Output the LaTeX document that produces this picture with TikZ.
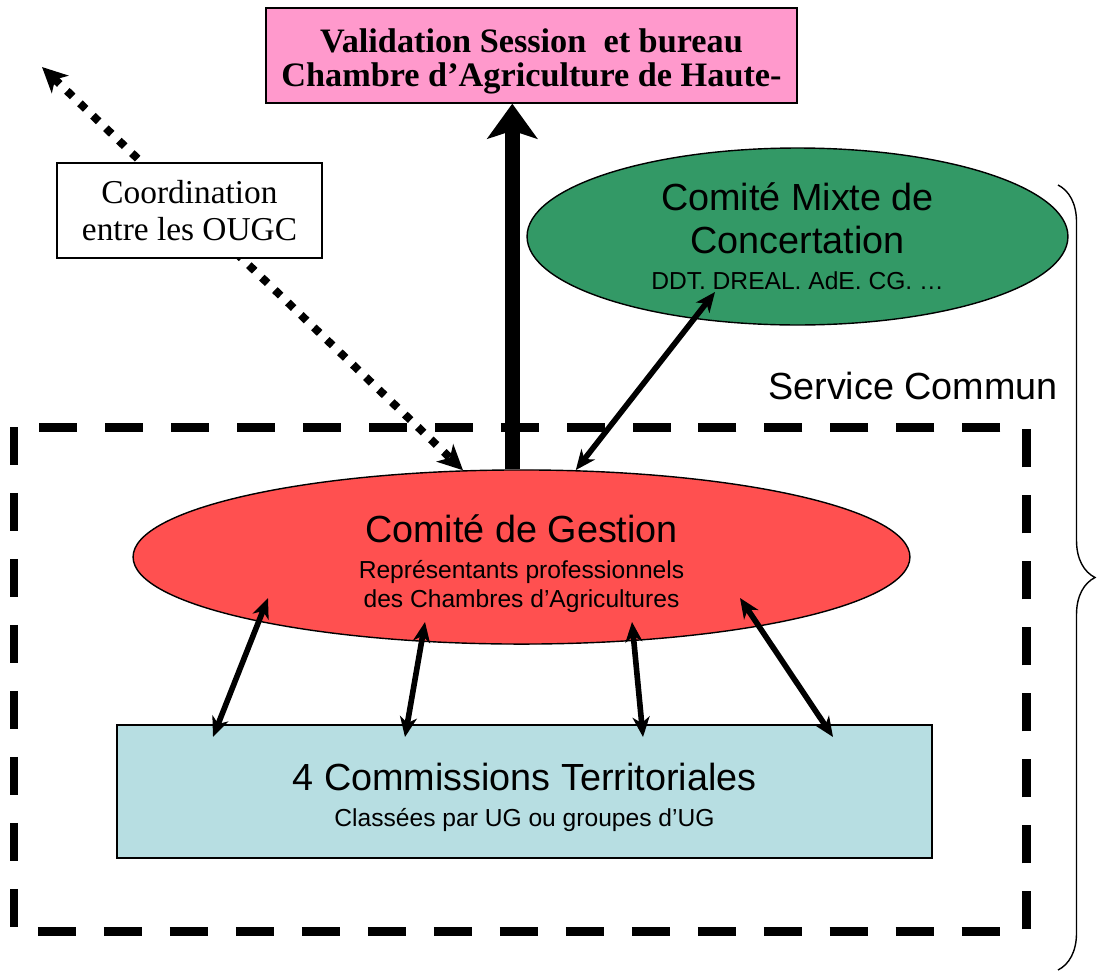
\documentclass[tikz,border=0pt]{standalone}
\usepackage{fontspec}
\setmainfont{Liberation Serif}
\setsansfont{Liberation Sans}
\usetikzlibrary{arrows.meta,shapes.geometric,decorations.pathreplacing}
\definecolor{rose}{RGB}{255,153,204}
\definecolor{vert}{RGB}{51,153,102}
\definecolor{rouge}{RGB}{255,80,80}
\definecolor{bleu}{RGB}{183,222,226}
\newcommand{\grosfont}{\sffamily\fontsize{21.5}{25}\selectfont}
\newcommand{\petitfont}{\sffamily\fontsize{14}{16.5}\selectfont}
\tikzset{
  lien/.style={<->, line width=3.2pt, >={Stealth[length=0.4cm,width=0.34cm,inset=0.12cm]}},
  boite/.style={draw, line width=0.8pt, align=center}
}
\begin{document}
\begin{tikzpicture}[x=0.02cm, y=-0.02cm]
\useasboundingbox (0,0) rectangle (1097,977);
% service commun
\draw[line width=0.18cm, dash pattern=on 0.76cm off 0.56cm] (14,427) rectangle (1026,931);
\node[anchor=west, font=\sffamily\fontsize{21.5}{24}\selectfont] (sc) at (762,386) {Service Commun};
\node[boite, ellipse, fill=rouge, minimum width=15.54cm, minimum height=3.4cm, font=\petitfont] (cg) at (521.5,557)
  {\rule{0pt}{23.5pt}{\grosfont Comité de Gestion}\\[4pt]Représentants professionnels\\des Chambres d’Agricultures};
\node[boite, fill=bleu, minimum width=16.3cm, minimum height=2.66cm, font=\petitfont] (ct) at (524.5,791.5)
  {\rule{0pt}{22pt}{\grosfont 4 Commissions Territoriales}\\[4pt]Classées par UG ou groupes d’UG};
\node[boite, ellipse, fill=vert, minimum width=10.82cm, minimum height=3.54cm, font=\petitfont] (cm) at (797.5,236.5)
  {{\grosfont Comité Mixte de}\\[8pt]{\grosfont Concertation}\\[4pt]DDT. DREAL. AdE. CG. …};
\node[boite, fill=rose, minimum width=10.62cm, minimum height=1.9cm, font=\bfseries\fontsize{19.5}{19.5}\selectfont] (vb) at (531.5,55.5)
  {\rule{0pt}{20pt}Validation Session~ et bureau\\Chambre d’Agriculture de Haute-};
% coordination
\coordinate (nw) at (42,67);
\draw[{Stealth[length=0.5cm,width=0.48cm,inset=0.14cm]}-{Stealth[length=0.5cm,width=0.48cm,inset=0.14cm]},
  line width=0.16cm, dash pattern=on 0.16cm off 0.2cm] (nw) -- (cg.124);
\node[boite, fill=white, minimum width=5.3cm, minimum height=1.9cm, font=\fontsize{19}{21}\selectfont] (co) at (189.5,210.5)
  {Coordination\\entre les OUGC};
% validation
\draw[-{Stealth[length=0.7cm,width=1cm,inset=0.16cm]}, line width=0.3cm] (cg.96) -- (cg.96 |- vb.south);
\coordinate (m1) at (715,292);
\draw[lien] (cg.58) -- (m1);
\foreach \i/\xa/\ya/\xb/\yb in {1/268/598/213/737, 2/425/622/405/737, 3/632/622/643/737, 4/740/598/833/737}
{
  \coordinate (g\i) at (\xa,\ya);
  \coordinate (t\i) at (\xb,\yb);
  \draw[lien] (g\i) -- (t\i);
}
\coordinate (ha) at (1058,185);
\coordinate (ba) at (1058,970);
\draw[decorate, decoration={brace, amplitude=0.74cm}, line width=0.8pt] (ha) -- (ba);
\end{tikzpicture}
\end{document}
